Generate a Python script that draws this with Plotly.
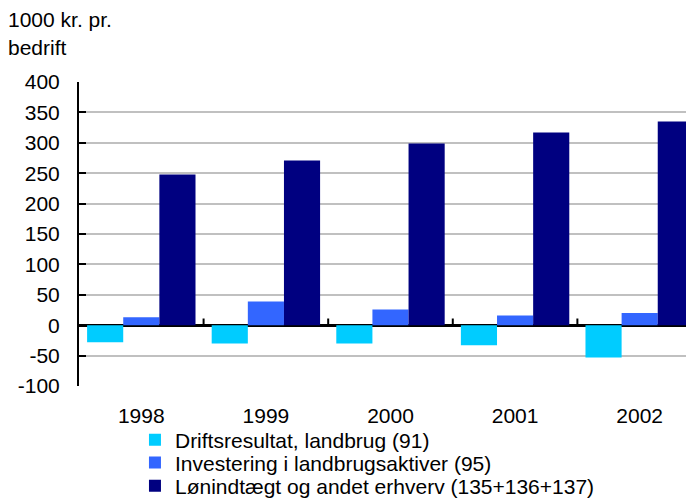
import plotly.graph_objects as go

years = ["1998", "1999", "2000", "2001", "2002"]
drift = [-28, -30, -30, -33, -53]
invest = [13, 39, 26, 16, 20]
loen = [248, 271, 299, 317, 335]

names = ["Driftsresultat, landbrug (91)",
         "Investering i landbrugsaktiver (95)",
         "Lønindtægt og andet erhverv (135+136+137)"]
colors = ["#00ccff", "#3366ff", "#000080"]

y_ticks = list(range(-100, 401, 50))
y_labels = [str(v) for v in y_ticks]

FONT = "Liberation Sans, Arial, sans-serif"
FS = 21

fig = go.Figure()
legends = ["legend", "legend2", "legend3"]
for name, vals, col, lg in zip(names, [drift, invest, loen], colors, legends):
    fig.add_trace(go.Bar(x=list(range(len(years))), y=vals, name=name, legend=lg,
                         marker=dict(color=col, line=dict(width=0))))

# kategori-tick på nul-linjen
for i in range(len(years) - 1):
    fig.add_shape(type="line", xref="x", yref="y", x0=i + 0.5, x1=i + 0.5,
                  y0=0, y1=11, line=dict(color="black", width=2))

def leg(y):
    return dict(x=0.091, y=y, xref="paper", yref="paper",
                xanchor="left", yanchor="middle", bgcolor="rgba(0,0,0,0)",
                font=dict(size=FS), itemwidth=30)

fig.update_layout(
    width=686, height=495,
    margin=dict(l=71, r=0, t=74, b=117, autoexpand=False),
    plot_bgcolor="white", paper_bgcolor="white",
    font=dict(family=FONT, size=FS, color="black"),
    barmode="group", bargap=0.13, bargroupgap=0,
    showlegend=True,
    legend=leg(-0.178), legend2=leg(-0.253), legend3=leg(-0.329),
    annotations=[
        dict(text="1000 kr. pr.", xref="paper", yref="paper", x=-0.118, y=1.204,
             xanchor="left", yanchor="middle", showarrow=False),
        dict(text="bedrift", xref="paper", yref="paper", x=-0.118, y=1.115,
             xanchor="left", yanchor="middle", showarrow=False),
    ],
)
fig.update_xaxes(range=[-0.5, 4.436], tickmode="array",
                 tickvals=list(range(len(years))), ticktext=years, tickangle=0,
                 showgrid=False, showline=False, zeroline=False, ticks="",
                 ticklabelstandoff=15)
fig.update_yaxes(range=[-100, 400], tickmode="array",
                 tickvals=y_ticks, ticktext=y_labels, showgrid=True,
                 gridcolor="#c0c0c0", gridwidth=2,
                 zeroline=True, zerolinecolor="black", zerolinewidth=2.5,
                 showline=True, linecolor="black", linewidth=2,
                 ticks="inside", ticklen=7, tickwidth=2, tickcolor="black",
                 ticklabelstandoff=13)

fig.write_html("out.html")
